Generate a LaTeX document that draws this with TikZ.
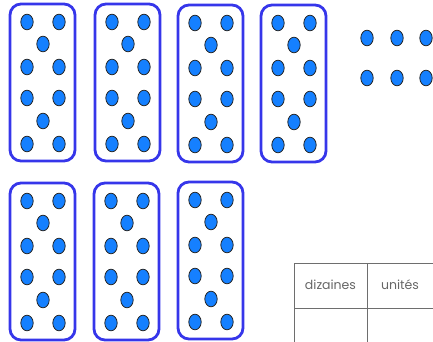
\documentclass[tikz,border=0pt]{standalone}
\usepackage{fontspec}
\setmainfont{Poppins}
\usepackage{tikz}
\definecolor{cadre}{HTML}{3636EA}
\definecolor{jeton}{HTML}{1580FF}
\definecolor{grille}{HTML}{6E6E6E}
\tikzset{
  boite/.style={draw=cadre,line width=2.8pt,rounded corners=11pt},
  pion/.style={fill=jeton,draw=black!85,line width=0.8pt},
  trait/.style={draw=grille,line width=0.8pt},
  entete/.style={font=\fontsize{12.5}{14}\selectfont,text=black!60,inner sep=0pt},
}
% une dizaine : cadre + 10 jetons, #1,#2 = coin haut gauche
\newcommand{\dizaine}[2]{%
  \draw[boite] (#1,#2) rectangle ++(65,157);
  \foreach \dx/\dy in {17/18,49/18,33/40,17/63,49/63,17/94,49/94,33/117,17/140,49/140}
    \draw[pion] (#1+\dx,#2+\dy) ellipse (6.2pt and 7.8pt);
}

\begin{document}
\begin{tikzpicture}[x=1pt,y=-1pt]
  \useasboundingbox (0,0) rectangle (433,342);
  % --- dizaines, rang du haut
  \dizaine{10}{4}
  \dizaine{95}{4}
  \dizaine{178}{5}
  \dizaine{261}{5}
  % --- dizaines, rang du bas
  \dizaine{10}{183}
  \dizaine{94}{183}
  \dizaine{178}{182}
  % --- unites isolees
  \draw[pion] (367,38) ellipse (6.2pt and 7.8pt);
  \draw[pion] (397,38) ellipse (6.2pt and 7.8pt);
  \draw[pion] (426,38) ellipse (6.2pt and 7.8pt);
  \draw[pion] (367,78) ellipse (6.2pt and 7.8pt);
  \draw[pion] (397,78) ellipse (6.2pt and 7.8pt);
  \draw[pion] (426,78) ellipse (6.2pt and 7.8pt);
  % --- tableau
  \coordinate (hg) at (294,263);
  \coordinate (hd) at (433,263);
  \coordinate (bg) at (294,342);
  \coordinate (hm) at (367,263);
  \coordinate (bm) at (367,342);
  \coordinate (lg) at (294,308);
  \coordinate (ld) at (433,308);
  \draw[trait] (bg) -- (hg) -- (hd);
  \draw[trait] (hm) -- (bm);
  \draw[trait] (lg) -- (ld);
  \node[entete] (diz) at (330.5,285) {dizaines};
  \node[entete] (uni) at (400,285) {unités};
\end{tikzpicture}
\end{document}
